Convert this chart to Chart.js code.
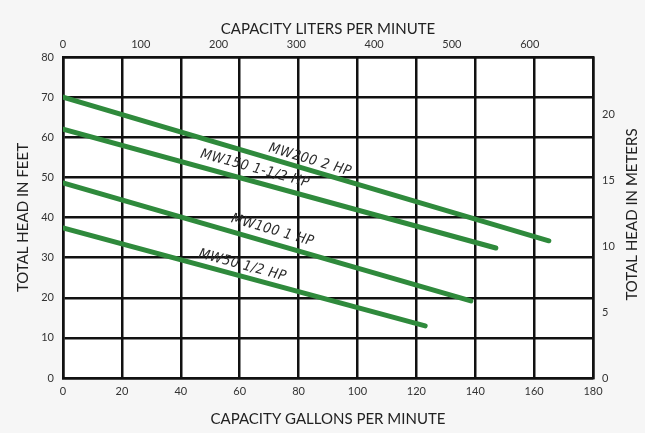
<!DOCTYPE html>
<html>
<head>
<meta charset="utf-8">
<script src="https://cdn.jsdelivr.net/npm/chart.js@4/dist/chart.umd.min.js"></script>
<style>
  body { margin: 0; background: #f6f6f6; }
  #wrap { width: 645px; height: 433px; }
</style>
</head>
<body>
<div id="wrap"><canvas id="pump" width="645" height="433"></canvas></div>
<script>
// pump curves, gallons per minute vs feet of head (start / end points)
const mw200Gpm = [0, 165];
const mw200Ft = [70, 34.2];
const mw150Gpm = [0, 147];
const mw150Ft = [62, 32.4];
const mw100Gpm = [0, 138.5];
const mw100Ft = [48.6, 19.2];
const mw50Gpm = [0, 123];
const mw50Ft = [37.4, 13];

const curveNames = ['MW200 2 HP', 'MW150 1-1/2 HP', 'MW100 1 HP', 'MW50 1/2 HP'];
// middle of each name, in gpm along its curve
const nameGpm = [83, 64, 70, 60];

const gpmTicks = [0, 20, 40, 60, 80, 100, 120, 140, 160, 180];
const lpmTicks = [0, 100, 200, 300, 400, 500, 600];
const meterTicks = [0, 5, 10, 15, 20];

const LPM_PER_GPM = 3.7854;
const FT_PER_M = 3.2808;

const green = '#2f8a3c';
const ink = '#111';
const tickFont = { family: 'Lato', size: 11 };
const titleFont = { family: 'Lato', size: 15 };
const nameGap = [6, 9, 9, 7]; // px between curve and text baseline

function pts(xs, ys) {
  return xs.map((x, i) => ({ x: x, y: ys[i] }));
}

const curves = [
  pts(mw200Gpm, mw200Ft),
  pts(mw150Gpm, mw150Ft),
  pts(mw100Gpm, mw100Ft),
  pts(mw50Gpm, mw50Ft)
];

// white plot field on the grey sheet
const plotBg = {
  id: 'plotBg',
  beforeDraw(chart) {
    const { ctx, chartArea: a } = chart;
    ctx.save();
    ctx.fillStyle = '#f6f6f6';
    ctx.fillRect(0, 0, chart.width, chart.height);
    ctx.fillStyle = '#ffffff';
    ctx.fillRect(a.left, a.top, a.right - a.left, a.bottom - a.top);
    ctx.restore();
  }
};

// names along the curves + right hand title (reads bottom to top)
const curveLabels = {
  id: 'curveLabels',
  afterDatasetsDraw(chart) {
    const { ctx, scales: { x, y } } = chart;
    ctx.save();
    ctx.fillStyle = '#2b2b2b';
    ctx.font = 'italic 14px "DejaVu Sans Condensed"';
    ctx.letterSpacing = '0.5px';
    ctx.textAlign = 'center';
    ctx.textBaseline = 'alphabetic';
    curves.forEach((c, i) => {
      const x0 = x.getPixelForValue(c[0].x), y0 = y.getPixelForValue(c[0].y);
      const x1 = x.getPixelForValue(c[1].x), y1 = y.getPixelForValue(c[1].y);
      const ang = Math.atan2(y1 - y0, x1 - x0);
      const t = (nameGpm[i] - c[0].x) / (c[1].x - c[0].x);
      ctx.save();
      ctx.translate(x0 + (x1 - x0) * t, y0 + (y1 - y0) * t);
      ctx.rotate(ang);
      ctx.fillText(curveNames[i], 0, -nameGap[i]);
      ctx.restore();
    });
    ctx.restore();

    const a = chart.chartArea;
    ctx.save();
    ctx.fillStyle = '#222';
    ctx.font = '15px Lato';
    ctx.textAlign = 'center';
    ctx.textBaseline = 'middle';
    ctx.translate(632, (a.top + a.bottom) / 2 - 3);
    ctx.rotate(-Math.PI / 2);
    ctx.fillText('TOTAL HEAD IN METERS', 0, 0);
    ctx.restore();
  }
};

new Chart(document.getElementById('pump'), {
  type: 'line',
  data: {
    datasets: curves.map((c, i) => ({
      label: curveNames[i],
      data: c,
      borderColor: green,
      borderWidth: 5,
      borderCapStyle: 'round',
      pointRadius: 0,
      fill: false
    }))
  },
  options: {
    responsive: false,
    animation: false,
    devicePixelRatio: 1,
    layout: { padding: 0 },
    plugins: { legend: { display: false }, tooltip: { enabled: false } },
    scales: {
      x: {
        type: 'linear', position: 'bottom', min: 0, max: 180,
        afterBuildTicks: s => { s.ticks = gpmTicks.map(v => ({ value: v })); },
        afterFit: s => { s.height = 55; },
        ticks: { font: tickFont, color: '#333', padding: 7, maxRotation: 0 },
        grid: { color: ink, lineWidth: 2.5, drawTicks: false },
        border: { color: ink, width: 2.5 },
        title: { display: true, text: 'CAPACITY GALLONS PER MINUTE', font: titleFont, color: '#222', padding: { top: 0, bottom: 5 } }
      },
      x2: {
        type: 'linear', position: 'top', min: 0, max: 180 * LPM_PER_GPM,
        afterBuildTicks: s => { s.ticks = lpmTicks.map(v => ({ value: v })); },
        afterFit: s => { s.height = 57; },
        ticks: { font: tickFont, color: '#333', padding: 6, maxRotation: 0 },
        grid: { display: false, drawTicks: false },
        border: { color: ink, width: 2.5 },
        title: { display: true, text: 'CAPACITY LITERS PER MINUTE', font: titleFont, color: '#222', padding: { top: 20, bottom: 0 } }
      },
      y: {
        type: 'linear', position: 'left', min: 0, max: 80,
        ticks: { stepSize: 10, font: tickFont, color: '#333', padding: 9 },
        afterFit: s => { s.width = 63; },
        grid: { color: ink, lineWidth: 2.5, drawTicks: false },
        border: { color: ink, width: 2.5 },
        title: { display: true, text: 'TOTAL HEAD IN FEET', font: titleFont, color: '#222', padding: { top: 14, bottom: 0 } }
      },
      y2: {
        type: 'linear', position: 'right', min: 0, max: 80 / FT_PER_M,
        afterBuildTicks: s => { s.ticks = meterTicks.map(v => ({ value: v })); },
        afterFit: s => { s.width = 52; },
        ticks: { font: tickFont, color: '#333', padding: 9 },
        grid: { display: false, drawTicks: false },
        border: { color: ink, width: 2.5 }
      }
    }
  },
  plugins: [plotBg, curveLabels]
});
</script>
</body>
</html>
